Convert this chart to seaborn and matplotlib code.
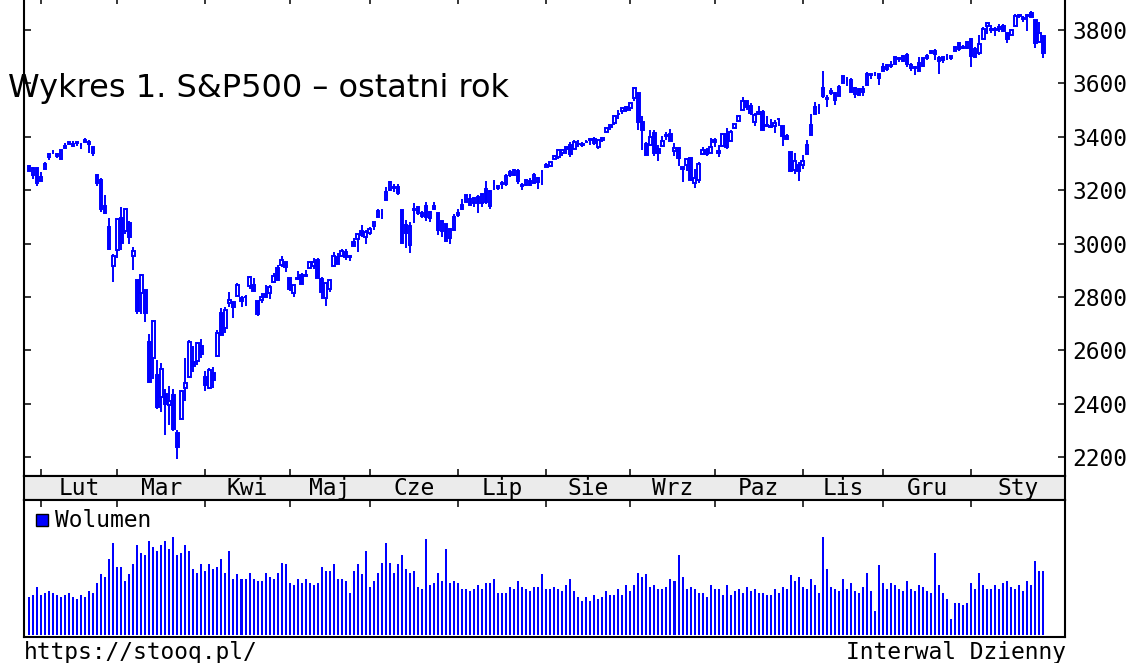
"""
S&P500 - last year, daily candles with volume (stooq style chart).
"""
import matplotlib

matplotlib.use("Agg")
import matplotlib.pyplot as plt
import numpy as np
import pandas as pd
import seaborn as sns
from matplotlib.patches import Rectangle

BLUE = "#0000ff"
MONO = "DejaVu Sans Mono"
W, H = 1146, 663

# trading days: business days minus NYSE holidays
START, END = "2020-01-29", "2021-01-29"
HOLIDAYS = ["2020-02-17", "2020-04-10", "2020-05-25", "2020-07-03", "2020-09-07",
            "2020-11-26", "2020-12-25", "2021-01-01", "2021-01-18"]
MONTH_NAMES = ["Sty", "Lut", "Mar", "Kwi", "Maj", "Cze",
               "Lip", "Sie", "Wrz", "Paz", "Lis", "Gru"]
Y_TICKS = [2200, 2400, 2600, 2800, 3000, 3200, 3400, 3600, 3800]

opens = [
    3289, 3256, 3282,
    3236, 3281, 3325, 3345, 3336, 3318, 3366, 3371, 3366, 3378, 3369, 3380, 3380, 3360, 3258, 3239, 3140, 3063, 2917,
    2974, 3096, 3046, 3076, 2954, 2864, 2813, 2826, 2631, 2570, 2509, 2426, 2437, 2393, 2432, 2291, 2344, 2458, 2501, 2556, 2559, 2615,
    2498, 2459, 2515, 2578, 2739, 2685, 2777, 2782, 2805, 2796, 2799, 2842, 2846, 2785, 2788, 2810, 2813, 2855, 2910, 2918, 2931,
    2869, 2815, 2869, 2883, 2878, 2909, 2915, 2940, 2866, 2795, 2830, 2914, 2949, 2954, 2970, 2948, 3004, 3016, 3047, 3025,
    3039, 3065, 3099, 3112, 3164, 3200, 3213, 3213, 3124, 3071, 2994, 3131, 3136, 3102, 3140, 3094, 3139, 3114, 3047, 3073, 3019, 3050,
    3106, 3144, 3155, 3166, 3153, 3176, 3152, 3205, 3141, 3226, 3208, 3224, 3224, 3269, 3255, 3272, 3219, 3220, 3234, 3227, 3232, 3270,
    3288, 3290, 3317, 3323, 3340, 3356, 3370, 3355, 3373, 3369, 3381, 3387, 3393, 3360, 3386, 3418, 3436, 3450, 3485, 3495, 3510,
    3507, 3544, 3565, 3454, 3372, 3370, 3413, 3353, 3364, 3408, 3411, 3347, 3357, 3286, 3296, 3320, 3226, 3237, 3334, 3351, 3341,
    3386, 3339, 3367, 3409, 3385, 3434, 3460, 3500, 3534, 3515, 3454, 3494, 3494, 3439, 3440, 3439, 3465, 3441, 3403, 3342, 3277, 3294,
    3296, 3336, 3406, 3486, 3508, 3583, 3543, 3563, 3563, 3553, 3600, 3610, 3612, 3559, 3579, 3567, 3595, 3636, 3639, 3634,
    3646, 3654, 3668, 3671, 3695, 3683, 3706, 3659, 3656, 3675, 3666, 3696, 3714, 3722, 3684, 3698, 3693, 3694, 3723, 3750, 3736, 3733,
    3765, 3698, 3712, 3765, 3815, 3803, 3802, 3802, 3815, 3789, 3782, 3816, 3857, 3844, 3852, 3863, 3837, 3756, 3778,
]
highs = [
    3293, 3286, 3282,
    3268, 3307, 3338, 3348, 3341, 3352, 3376, 3381, 3385, 3381, 3375, 3394, 3389, 3361, 3260, 3247, 3183, 3097, 2960,
    3091, 3137, 3131, 3083, 2986, 2864, 2883, 2826, 2661, 2711, 2563, 2554, 2454, 2467, 2453, 2301, 2450, 2571, 2637, 2616, 2632, 2641,
    2523, 2533, 2538, 2677, 2757, 2761, 2819, 2782, 2852, 2802, 2807, 2879, 2869, 2786, 2815, 2845, 2843, 2888, 2921, 2955, 2931,
    2869, 2844, 2898, 2891, 2902, 2932, 2944, 2946, 2874, 2853, 2865, 2968, 2964, 2980, 2979, 2957, 3022, 3036, 3069, 3049,
    3062, 3081, 3131, 3129, 3212, 3233, 3223, 3223, 3124, 3088, 3080, 3153, 3141, 3120, 3156, 3121, 3155, 3115, 3086, 3074, 3054, 3112,
    3128, 3166, 3183, 3184, 3172, 3180, 3187, 3235, 3201, 3238, 3220, 3234, 3259, 3277, 3279, 3280, 3227, 3241, 3244, 3265, 3251, 3272,
    3303, 3307, 3331, 3351, 3353, 3363, 3381, 3388, 3387, 3379, 3388, 3395, 3400, 3391, 3400, 3432, 3444, 3481, 3501, 3509, 3515,
    3528, 3588, 3565, 3479, 3380, 3425, 3426, 3369, 3403, 3419, 3429, 3375, 3362, 3286, 3320, 3323, 3279, 3307, 3361, 3358, 3394,
    3397, 3369, 3410, 3432, 3426, 3447, 3482, 3550, 3534, 3528, 3489, 3516, 3502, 3477, 3465, 3461, 3466, 3441, 3410, 3342, 3341, 3305,
    3330, 3389, 3486, 3529, 3522, 3646, 3557, 3581, 3569, 3594, 3629, 3623, 3619, 3585, 3581, 3590, 3642, 3636, 3644, 3634,
    3678, 3671, 3683, 3699, 3697, 3708, 3712, 3678, 3666, 3698, 3695, 3711, 3725, 3727, 3703, 3698, 3711, 3704, 3741, 3756, 3745, 3760,
    3770, 3738, 3783, 3812, 3827, 3818, 3811, 3821, 3824, 3789, 3805, 3860, 3861, 3852, 3859, 3871, 3837, 3831, 3778,
]
lows = [
    3272, 3243, 3215,
    3236, 3281, 3314, 3334, 3322, 3318, 3353, 3370, 3361, 3366, 3356, 3379, 3341, 3328, 3215, 3119, 3109, 2977, 2856,
    2945, 2977, 3034, 3000, 2902, 2734, 2734, 2707, 2479, 2492, 2381, 2367, 2281, 2320, 2296, 2192, 2344, 2408, 2501, 2520, 2545, 2571,
    2447, 2456, 2460, 2575, 2658, 2663, 2762, 2721, 2805, 2762, 2764, 2831, 2820, 2727, 2776, 2794, 2792, 2853, 2861, 2912, 2892,
    2822, 2798, 2864, 2848, 2876, 2903, 2903, 2870, 2793, 2767, 2817, 2914, 2922, 2954, 2939, 2934, 2988, 2970, 3023, 2999,
    3032, 3052, 3099, 3090, 3164, 3196, 3193, 3181, 2999, 2984, 2966, 3076, 3108, 3094, 3083, 3079, 3127, 3032, 3024, 3005, 3000, 3048,
    3101, 3125, 3155, 3143, 3137, 3116, 3136, 3149, 3128, 3201, 3199, 3206, 3215, 3248, 3253, 3223, 3200, 3214, 3216, 3227, 3204, 3220,
    3285, 3286, 3317, 3318, 3329, 3335, 3326, 3355, 3363, 3362, 3379, 3370, 3370, 3355, 3379, 3413, 3426, 3444, 3468, 3484, 3493,
    3495, 3535, 3427, 3350, 3329, 3367, 3329, 3310, 3364, 3389, 3384, 3329, 3292, 3229, 3271, 3233, 3209, 3228, 3333, 3328, 3340,
    3361, 3324, 3367, 3355, 3385, 3428, 3458, 3500, 3501, 3481, 3441, 3480, 3420, 3436, 3433, 3415, 3440, 3365, 3389, 3269, 3260, 3234,
    3280, 3336, 3405, 3486, 3484, 3547, 3512, 3557, 3519, 3553, 3600, 3589, 3567, 3544, 3557, 3553, 3595, 3618, 3629, 3594,
    3646, 3645, 3657, 3671, 3679, 3679, 3661, 3645, 3633, 3646, 3660, 3689, 3711, 3686, 3636, 3676, 3689, 3689, 3723, 3723, 3730, 3727,
    3663, 3695, 3705, 3765, 3784, 3789, 3777, 3792, 3793, 3750, 3780, 3816, 3845, 3830, 3797, 3848, 3732, 3756, 3694,
]
closes = [
    3273, 3284, 3226,
    3249, 3298, 3335, 3346, 3328, 3352, 3358, 3379, 3374, 3380, 3370, 3386, 3373, 3338, 3226, 3128, 3116, 2979, 2954,
    3090, 3003, 3130, 3024, 2972, 2747, 2882, 2741, 2481, 2711, 2386, 2529, 2398, 2409, 2305, 2237, 2447, 2476, 2630, 2541, 2627, 2585,
    2471, 2527, 2489, 2664, 2659, 2750, 2790, 2762, 2846, 2783, 2800, 2875, 2823, 2737, 2799, 2798, 2837, 2878, 2863, 2940, 2912,
    2831, 2843, 2868, 2848, 2881, 2930, 2930, 2870, 2820, 2853, 2864, 2954, 2923, 2972, 2949, 2955, 2992, 3036, 3030, 3044,
    3056, 3081, 3123, 3112, 3194, 3232, 3207, 3190, 3002, 3041, 3067, 3125, 3113, 3115, 3098, 3118, 3131, 3050, 3084, 3009, 3053, 3100,
    3116, 3130, 3180, 3145, 3170, 3152, 3185, 3155, 3198, 3227, 3216, 3225, 3252, 3257, 3276, 3236, 3216, 3239, 3218, 3258, 3246, 3271,
    3295, 3307, 3328, 3349, 3351, 3360, 3334, 3380, 3373, 3373, 3382, 3390, 3375, 3386, 3397, 3431, 3444, 3479, 3485, 3508, 3500,
    3527, 3581, 3455, 3427, 3332, 3399, 3339, 3341, 3384, 3401, 3385, 3357, 3319, 3281, 3316, 3237, 3247, 3298, 3352, 3335, 3363,
    3381, 3348, 3409, 3361, 3419, 3447, 3477, 3534, 3512, 3489, 3483, 3484, 3427, 3443, 3436, 3453, 3465, 3401, 3391, 3271, 3310, 3270,
    3310, 3369, 3443, 3510, 3509, 3551, 3546, 3573, 3537, 3585, 3627, 3610, 3568, 3582, 3558, 3578, 3635, 3630, 3638, 3622,
    3662, 3669, 3667, 3699, 3692, 3702, 3673, 3668, 3663, 3647, 3695, 3701, 3722, 3709, 3695, 3687, 3690, 3703, 3735, 3727, 3732, 3756,
    3701, 3727, 3748, 3804, 3825, 3800, 3801, 3810, 3796, 3768, 3799, 3852, 3853, 3841, 3855, 3850, 3751, 3787, 3714,
]
# volume, relative units
volume = [
    38, 40, 48, 40, 42, 44, 42, 40, 38, 40, 42, 38, 36, 40, 38, 44, 42, 52, 61, 58, 76, 92,
    68, 68, 54, 61, 71, 90, 82, 80, 94, 88, 84, 90, 94, 86, 98, 80, 82, 90, 84, 66, 62, 71,
    64, 71, 66, 68, 76, 62, 84, 56, 61, 56, 56, 62, 56, 54, 54, 62, 58, 56, 62, 72, 71, 52,
    50, 56, 52, 56, 52, 50, 52, 68, 64, 64, 71, 56, 56, 54, 42, 64, 71, 61, 84, 48, 54, 62,
    72, 92, 72, 62, 71, 80, 66, 62, 64, 48, 46, 96, 50, 52, 62, 54, 86, 52, 54, 52, 46, 46,
    44, 46, 50, 46, 52, 52, 56, 42, 42, 42, 48, 46, 54, 48, 46, 44, 48, 48, 61, 46, 46, 48,
    46, 44, 50, 56, 44, 38, 34, 38, 34, 40, 36, 38, 44, 40, 40, 46, 40, 50, 44, 50, 62, 58,
    61, 48, 50, 46, 46, 48, 56, 54, 80, 58, 46, 48, 46, 42, 42, 38, 50, 46, 46, 40, 50, 40,
    44, 46, 42, 48, 44, 46, 42,
    42, 40, 40, 46, 42, 48, 46, 60, 54, 58, 48, 46, 56, 50, 42, 98, 66, 48, 46, 44,
    56, 46, 52, 44, 42, 48, 62, 44, 24, 70, 52, 46, 52, 50, 46, 44, 54, 46, 44, 50,
    48, 44, 42, 82, 50, 42, 36, 16, 32, 32, 30, 32, 52, 46, 62, 50, 46, 46, 50, 46,
    52, 54, 48, 46, 50, 44, 54, 50, 74, 64, 64,
]


def box(x0, y0, x1, y1):
    """Axes rectangle from pixel coordinates (origin top-left)."""
    return [x0 / W, 1 - y1 / H, (x1 - x0) / W, (y1 - y0) / H]


def main() -> None:
    sns.set_style("white", {"axes.edgecolor": "black", "xtick.color": "black",
                            "ytick.color": "black", "text.color": "black"})
    plt.rcParams["font.family"] = MONO

    dates = pd.bdate_range(START, END)
    dates = dates[~dates.isin(pd.to_datetime(HOLIDAYS))]
    df = pd.DataFrame({"date": dates, "open": opens, "high": highs,
                       "low": lows, "close": closes, "volume": volume})
    df["i"] = np.arange(len(df))
    df["up"] = df["close"] >= df["open"]
    df["body_lo"] = df[["open", "close"]].min(axis=1)
    df["body_h"] = (df["close"] - df["open"]).abs()

    month_key = df["date"].dt.to_period("M")
    starts = df.groupby(month_key)["i"].min().tolist()[1:]
    names = [MONTH_NAMES[df["date"].iloc[s].month - 1] for s in starts]

    xlim = (-1.25, 258.4)
    fig = plt.figure(figsize=(W / 100, H / 100), dpi=100)
    ax = fig.add_axes(box(24, -3, 1065, 476))
    band = fig.add_axes(box(24, 476, 1065, 500))
    axv = fig.add_axes(box(24, 500, 1065, 637))

    # candles: hollow when close >= open, filled otherwise
    ax.vlines(df["i"], df["low"], df["high"], color=BLUE, lw=1.4, zorder=2)
    up, dn = df[df["up"]], df[~df["up"]]
    ax.bar(up["i"], up["body_h"], bottom=up["body_lo"], width=0.65,
           facecolor="white", edgecolor=BLUE, linewidth=1.4, zorder=3)
    ax.bar(dn["i"], dn["body_h"], bottom=dn["body_lo"], width=0.65,
           facecolor=BLUE, edgecolor=BLUE, linewidth=1.4, zorder=3)
    ax.set_xlim(xlim)
    ax.set_ylim(2128.8, 3923.7)
    ax.set_yticks(Y_TICKS)
    ax.set_xticks(starts)
    ax.tick_params(axis="y", left=True, right=True, labelleft=False, labelright=True,
                   direction="in", length=5, width=1.1, pad=5.5, labelsize=16.5)
    ax.tick_params(axis="x", top=True, bottom=True, labelbottom=False,
                   direction="in", length=5, width=1.1)

    # month band
    band.set_facecolor("#ebebeb")
    band.set_xlim(xlim)
    band.set_ylim(0, 1)
    band.set_xticks([])
    band.set_yticks([])
    bounds = starts + [xlim[1]]
    for k, name in enumerate(names):
        band.text((bounds[k] + bounds[k + 1]) / 2, 0.21, name, ha="center",
                  va="baseline", fontsize=16.5, family=MONO)

    # volume
    sns.barplot(x=df["i"].to_numpy(), y=df["volume"].to_numpy(), native_scale=True,
                color=BLUE, saturation=1, width=0.5, errorbar=None, linewidth=0, ax=axv)
    axv.set(xlabel="", ylabel="")
    axv.set_xlim(xlim)
    axv.set_ylim(-2, 135)
    axv.set_yticks([])
    axv.set_xticks(starts)
    axv.tick_params(axis="x", top=True, bottom=False, labelbottom=False,
                    direction="in", length=5, width=1.1)
    axv.add_patch(Rectangle((0.0115, 0.81), 0.0115, 0.0876, transform=axv.transAxes,
                            facecolor=BLUE, edgecolor="black", lw=1.0, zorder=5))
    axv.text(0.0298, 0.854, "Wolumen", transform=axv.transAxes, va="center",
             fontsize=16.5, family=MONO)

    for a in (ax, band, axv):
        for sp in a.spines.values():
            sp.set_visible(True)
            sp.set_color("black")
            sp.set_linewidth(1.5)

    fig.text(24 / W, 4 / H, "https://stooq.pl/", fontsize=16.5, family=MONO,
             va="baseline", ha="left")
    fig.text(1066 / W, 4 / H, "Interwal Dzienny", fontsize=16.5, family=MONO,
             va="baseline", ha="right")
    fig.text(8 / W, 1 - 97 / H, "Wykres 1. S&P500 \u2013 ostatni rok", fontsize=23,
             family="DejaVu Sans", va="baseline", ha="left", zorder=10)

    fig.savefig("out.png", dpi=100)
    plt.close(fig)


if __name__ == "__main__":
    main()
